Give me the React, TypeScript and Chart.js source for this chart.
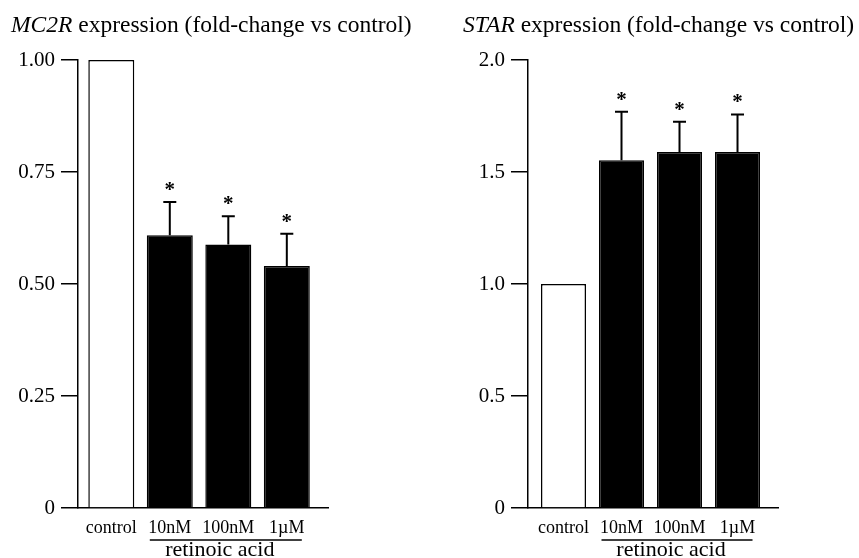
import React, { useEffect, useRef } from 'react';
import { Chart, registerables } from 'chart.js';

Chart.register(...registerables);

const categories = ['control', '10nM', '100nM', '1µM'];
const mc2rMean = [1.0, 0.609, 0.588, 0.54];
const mc2rErr = [0, 0.074, 0.063, 0.072];
const starMean = [1.0, 1.553, 1.589, 1.589];
const starErr = [0, 0.216, 0.135, 0.168];
const significant = [false, true, true, true];
const mc2rTicks = [0, 0.25, 0.5, 0.75, 1.0];
const starTicks = [0, 0.5, 1.0, 1.5, 2.0];
const treatmentLabel = 'retinoic acid';

const SERIF = '"Liberation Serif", "Times New Roman", Times, serif';

type Cfg = {
  gene: string;
  means: number[];
  errs: number[];
  ticks: number[];
  decimals: number;
  xMin: number;
  xMax: number;
  axisWidth: number;
  padRight: number;
  titleX: number;
  barPct: number;
};

function makeChart(canvas: HTMLCanvasElement, cfg: Cfg) {
  const overlay = {
    id: 'overlay',
    afterDatasetsDraw(chart: any) {
      const ctx = chart.ctx;
      const xs = chart.scales.x;
      const ys = chart.scales.y;
      ctx.save();
      ctx.strokeStyle = '#000';
      ctx.fillStyle = '#000';
      ctx.lineWidth = 2;
      cfg.means.forEach((m, i) => {
        const e = cfg.errs[i];
        const x = xs.getPixelForValue(i);
        if (e > 0) {
          const yb = ys.getPixelForValue(m);
          const yt = ys.getPixelForValue(m + e);
          ctx.beginPath();
          ctx.moveTo(x, yb);
          ctx.lineTo(x, yt);
          ctx.moveTo(x - 6.5, yt);
          ctx.lineTo(x + 6.5, yt);
          ctx.stroke();
        }
        if (significant[i]) {
          const yt = ys.getPixelForValue(m + e);
          ctx.font = `bold 21px ${SERIF}`;
          ctx.textAlign = 'center';
          ctx.textBaseline = 'alphabetic';
          ctx.fillText('*', x, yt - 17 + 11);
        }
      });
      ctx.restore();
    },
    afterDraw(chart: any) {
      const ctx = chart.ctx;
      const xs = chart.scales.x;
      ctx.save();
      ctx.fillStyle = '#000';
      ctx.strokeStyle = '#000';
      ctx.textAlign = 'left';
      ctx.textBaseline = 'alphabetic';
      ctx.font = `italic 23.5px ${SERIF}`;
      ctx.fillText(cfg.gene, cfg.titleX, 32);
      const w = ctx.measureText(cfg.gene).width;
      ctx.font = `23.5px ${SERIF}`;
      ctx.fillText(' expression (fold-change vs control)', cfg.titleX + w, 32);
      const x1 = xs.getPixelForValue(1) - 20;
      const x3 = xs.getPixelForValue(3) + 15;
      ctx.lineWidth = 1.5;
      ctx.beginPath();
      ctx.moveTo(x1, 540);
      ctx.lineTo(x3, 540);
      ctx.stroke();
      ctx.font = `22px ${SERIF}`;
      ctx.textAlign = 'center';
      ctx.fillText(treatmentLabel, (x1 + x3) / 2 - 6, 556);
      ctx.restore();
    },
  };

  return new Chart(canvas, {
    type: 'bar',
    data: {
      datasets: [
        {
          data: cfg.means.map((m, i) => ({ x: i, y: m })),
          backgroundColor: cfg.means.map((_, i) => (i === 0 ? '#ffffff' : '#000000')),
          borderColor: '#000000',
          borderWidth: 1.5,
          categoryPercentage: 1,
          barPercentage: cfg.barPct,
        } as any,
      ],
    },
    options: {
      animation: false,
      responsive: false,
      maintainAspectRatio: false,
      devicePixelRatio: 1,
      layout: { padding: { top: 60, right: cfg.padRight, left: 0, bottom: 0 } },
      plugins: { legend: { display: false }, tooltip: { enabled: false }, title: { display: false } },
      scales: {
        x: {
          type: 'linear',
          offset: false,
          min: cfg.xMin,
          max: cfg.xMax,
          afterFit: (s: any) => {
            s.height = 50;
          },
          afterBuildTicks: (s: any) => {
            s.ticks = categories.map((_, i) => ({ value: i }));
          },
          grid: { display: true, offset: false, drawOnChartArea: false, drawTicks: false },
          border: { display: true, color: '#000', width: 1.5 },
          ticks: {
            autoSkip: false,
            maxRotation: 0,
            padding: 9,
            color: '#000',
            font: { family: SERIF, size: 18 },
            callback: (v: any) => categories[Math.round(Number(v))] ?? '',
          },
        },
        y: {
          min: 0,
          max: cfg.ticks[cfg.ticks.length - 1],
          afterFit: (s: any) => {
            s.width = cfg.axisWidth;
          },
          afterBuildTicks: (s: any) => {
            s.ticks = cfg.ticks.map((v) => ({ value: v }));
          },
          grid: { display: true, drawOnChartArea: false, drawTicks: true, tickLength: 17, color: '#000', lineWidth: 1.5 },
          border: { display: true, color: '#000', width: 1.5 },
          ticks: {
            padding: 6,
            color: '#000',
            font: { family: SERIF, size: 21 },
            callback: (v: any) => (Number(v) === 0 ? '0' : Number(v).toFixed(cfg.decimals)),
          },
        },
      },
    } as any,
    plugins: [overlay],
  });
}

export default function App() {
  const leftRef = useRef<HTMLCanvasElement>(null);
  const rightRef = useRef<HTMLCanvasElement>(null);

  useEffect(() => {
    const c1 = makeChart(leftRef.current!, {
      gene: 'MC2R',
      means: mc2rMean,
      errs: mc2rErr,
      ticks: mc2rTicks,
      decimals: 2,
      xMin: -0.569,
      xMax: 3.704,
      axisWidth: 78,
      padRight: 102,
      titleX: 11,
      barPct: 0.786,
    });
    const c2 = makeChart(rightRef.current!, {
      gene: 'STAR',
      means: starMean,
      errs: starErr,
      ticks: starTicks,
      decimals: 1,
      xMin: -0.612,
      xMax: 3.698,
      axisWidth: 98,
      padRight: 81,
      titleX: 33,
      barPct: 0.776,
    });
    return () => {
      c1.destroy();
      c2.destroy();
    };
  }, []);

  return (
    <div style={{ position: 'fixed', left: 0, top: 0, width: 859, height: 558, background: '#fff' }}>
      <canvas ref={leftRef} width={430} height={558} style={{ position: 'absolute', left: 0, top: 0 }} />
      <canvas ref={rightRef} width={429} height={558} style={{ position: 'absolute', left: 430, top: 0 }} />
    </div>
  );
}
